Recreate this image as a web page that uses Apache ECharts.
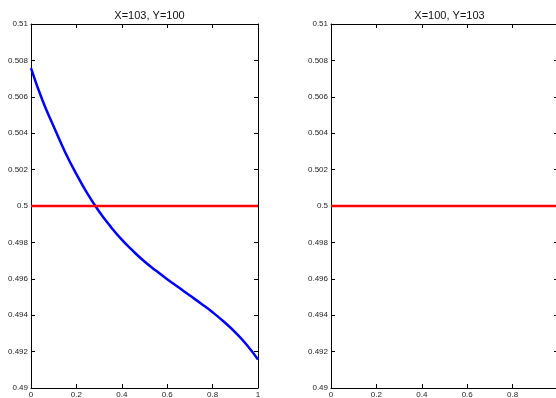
<!DOCTYPE html>
<html>
<head>
<meta charset="utf-8">
<script src="https://cdn.jsdelivr.net/npm/echarts@6/dist/echarts.min.js"></script>
<style>html,body{margin:0;padding:0;background:#fff}#c{width:556px;height:398px}</style>
</head>
<body>
<div id="c"></div>
<script>
const titles = ['X=103, Y=100', 'X=100, Y=103'];
const xTicks = [0, 0.2, 0.4, 0.6, 0.8, 1];
const yTicks = [0.49, 0.492, 0.494, 0.496, 0.498, 0.5, 0.502, 0.504, 0.506, 0.508, 0.51];
const xs = [0, 0.05, 0.1, 0.15, 0.2, 0.25, 0.3, 0.35, 0.4, 0.45, 0.5, 0.55, 0.6, 0.65, 0.7, 0.75, 0.8, 0.85, 0.9, 0.95, 1];
const blueLeftY = [0.50757, 0.50582, 0.50437, 0.50297, 0.50175, 0.50065, 0.49970, 0.49888, 0.49815, 0.49752, 0.49695, 0.49645, 0.49598, 0.49553, 0.49508, 0.49463, 0.49416, 0.49364, 0.49306, 0.49238, 0.49157];
const redLeft = [[0,0.5],[1,0.5]];
const blueRight = [[0,0.5],[1,0.5]];
const redRight = [[0,0.5],[1,0.5]];

const FONT = 'Liberation Sans';
const chart = echarts.init(document.getElementById('c'), null, {renderer:'canvas'});
const grids = [{left:31, top:24, width:227, height:364, outerBoundsMode:'none', containLabel:false},
               {left:331, top:24, width:227, height:364, outerBoundsMode:'none', containLabel:false}];
function xAx(gi, pos, labels){
  return {type:'value', gridIndex:gi, position:pos, min:xTicks[0], max:xTicks[xTicks.length-1], interval:0.2,
    axisLine:{show:true, onZero:false, lineStyle:{color:'#000', width:1}},
    axisTick:{show:true, inside:true, length:4, lineStyle:{color:'#000'}},
    axisLabel:{show:labels, margin:3, fontSize:8, color:'#222', fontFamily:FONT, hideOverlap:false,
      formatter:v=>{const t=xTicks.find(a=>Math.abs(a-v)<1e-9);return t===undefined?'':String(t);}},
    splitLine:{show:false}};
}
function yAx(gi, pos, labels){
  return {type:'value', gridIndex:gi, position:pos, min:yTicks[0], max:yTicks[yTicks.length-1], interval:0.002,
    axisLine:{show:true, onZero:false, lineStyle:{color:'#000', width:1}},
    axisTick:{show:true, inside:true, length:4, lineStyle:{color:'#000'}},
    axisLabel:{show:labels, margin:3, fontSize:8, color:'#222', fontFamily:FONT,
      formatter:v=>{const t=yTicks.find(a=>Math.abs(a-v)<1e-9);return t===undefined?'':String(t);}},
    splitLine:{show:false}};
}
function line(data, color, w, xi, yi, smooth){
  return {type:'line', data:data, xAxisIndex:xi, yAxisIndex:yi, showSymbol:false, symbol:'none',
    smooth:smooth?0.5:false, lineStyle:{color:color, width:w}, silent:true};
}
const blueLeft = xs.map((x,i)=>[x, blueLeftY[i]]);
chart.setOption({
  animation:false,
  backgroundColor:'#fff',
  title: titles.map((t,i)=>({text:t, left:grids[i].left+grids[i].width/2, top:5, textAlign:'center',
    textStyle:{fontSize:11, fontWeight:'normal', color:'#111', fontFamily:FONT}})),
  grid: grids,
  xAxis:[xAx(0,'bottom',true), xAx(0,'top',false), xAx(1,'bottom',true), xAx(1,'top',false)],
  yAxis:[yAx(0,'left',true), yAx(0,'right',false), yAx(1,'left',true), yAx(1,'right',false)],
  series:[
    line(blueLeft,'#0000ff',2.5,0,0,true),
    line(redLeft,'#ff0000',2.5,0,0,false),
    line(blueRight,'#0000ff',1.2,2,2,false),
    line(redRight,'#ff0000',2.5,2,2,false)
  ]
});
</script>
</body>
</html>
